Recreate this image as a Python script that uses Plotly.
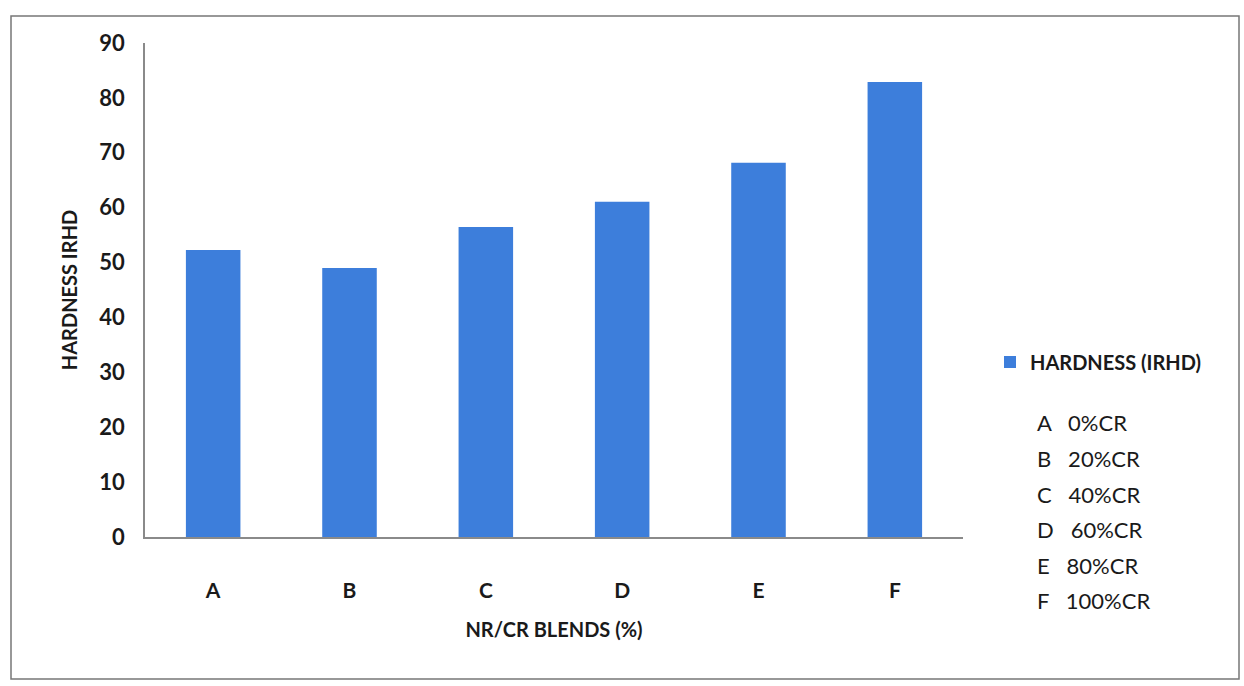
import plotly.graph_objects as go

categories = ["A", "B", "C", "D", "E", "F"]
hardness = [52.3, 49.0, 56.5, 61.1, 68.2, 82.9]
series_name = "HARDNESS (IRHD)"
key_letters = ["A", "B", "C", "D", "E", "F"]
key_values = ["0%CR", "20%CR", "40%CR", "60%CR", "80%CR", "100%CR"]
y_ticks = [0, 10, 20, 30, 40, 50, 60, 70, 80, 90]

FONT = "Lato"
BAR = "#3D7EDB"
AX = "#8a8a8a"
TXT = "#1a1a1a"

fig = go.Figure()
fig.add_trace(go.Bar(x=categories, y=hardness, name=series_name,
                     marker=dict(color=BAR, line=dict(width=0)),
                     showlegend=True))

W, H = 1244, 686
L, R, T, B = 145, 281, 43, 149
pw, ph = W - L - R, H - T - B

def px_x(x):
    return (x - L) / pw

def px_y(y):
    return (H - B - y) / ph

annotations = []
for i, (k, v) in enumerate(zip(key_letters, key_values)):
    ypx = 423 + i * 35.5
    annotations.append(dict(xref="paper", yref="paper", x=px_x(1035), y=px_y(ypx),
                            xanchor="left", yanchor="middle", showarrow=False,
                            text=k + "&nbsp;&nbsp;&nbsp;" + v,
                            font=dict(family=FONT, size=22, color=TXT)))

fig.update_layout(
    width=W, height=H,
    margin=dict(l=L, r=R, t=T, b=B),
    paper_bgcolor="white", plot_bgcolor="white",
    font=dict(family=FONT, color=TXT),
    bargap=0.6,
    legend=dict(x=px_x(990), y=px_y(362), xanchor="left", yanchor="middle",
                font=dict(family=FONT, size=20, color=TXT, weight="bold"),
                bgcolor="rgba(0,0,0,0)", itemwidth=30),
    xaxis=dict(showline=True, linecolor=AX, linewidth=1.5, showgrid=False,
               ticks="", tickfont=dict(family=FONT, size=21, color=TXT, weight="bold"),
               ticklabelstandoff=34,
               title=dict(text="NR/CR BLENDS (%)", standoff=22,
                          font=dict(family=FONT, size=20, color=TXT, weight="bold"))),
    yaxis=dict(range=[0, 90], tickvals=y_ticks, showline=True, linecolor=AX, linewidth=1.5,
               showgrid=False, zeroline=False, ticks="",
               tickfont=dict(family=FONT, size=22, color=TXT, weight="bold"),
               ticklabelstandoff=14,
               title=dict(text="HARDNESS IRHD", standoff=16,
                          font=dict(family=FONT, size=20, color=TXT, weight="bold"))),
    annotations=annotations,
    shapes=[dict(type="rect", xref="paper", yref="paper",
                 x0=px_x(11), x1=px_x(1239), y0=px_y(679), y1=px_y(16),
                 line=dict(color="#777777", width=1.5), fillcolor="rgba(0,0,0,0)",
                 layer="below")],
)

fig.write_html("out.html")
